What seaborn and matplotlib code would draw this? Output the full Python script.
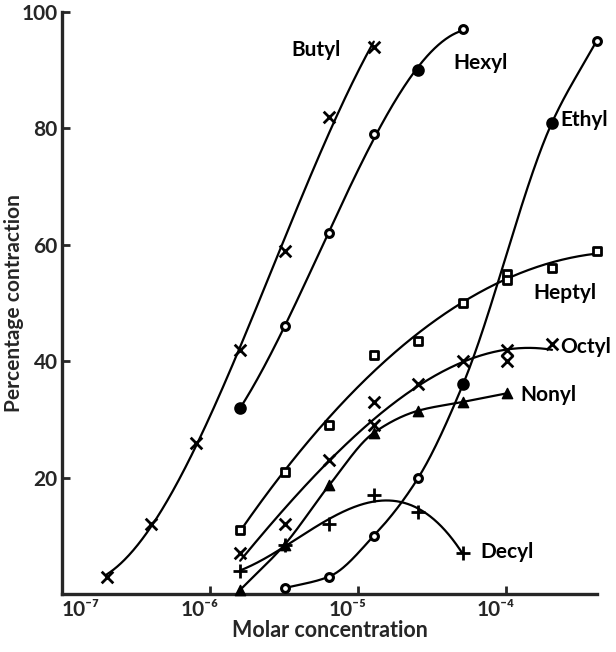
import numpy as np
import pandas as pd
import matplotlib
matplotlib.use("Agg")
import matplotlib.pyplot as plt
import matplotlib.transforms as mtransforms
import seaborn as sns

# ---- data ----
butyl_x = [2e-7, 4e-7, 8e-7, 1.6e-6, 3.2e-6, 6.4e-6, 1.28e-5]
butyl_y = [3, 12, 26, 42, 59, 82, 94]

hexyl_x = [1.6e-6, 3.2e-6, 6.4e-6, 1.28e-5, 2.56e-5, 5.12e-5]
hexyl_y = [32, 46, 62, 79, 90, 97]
hexyl_filled = [True, False, False, False, True, False]

ethyl_x = [3.2e-6, 6.4e-6, 1.28e-5, 2.56e-5, 5.12e-5, 2.048e-4, 4.096e-4]
ethyl_y = [1, 3, 10, 20, 36, 81, 95]
ethyl_filled = [False, False, False, False, True, True, False]

heptyl_x = [1.6e-6, 3.2e-6, 6.4e-6, 1.28e-5, 2.56e-5, 5.12e-5, 1.024e-4, 1.024e-4, 2.048e-4, 4.096e-4]
heptyl_y = [11, 21, 29, 41, 43.5, 50, 55, 54, 56, 59]

octyl_x = [1.6e-6, 3.2e-6, 6.4e-6, 1.28e-5, 1.28e-5, 2.56e-5, 5.12e-5, 1.024e-4, 1.024e-4, 2.048e-4]
octyl_y = [7, 12, 23, 33, 29, 36, 40, 42, 40, 43]

nonyl_x = [1.6e-6, 3.2e-6, 6.4e-6, 1.28e-5, 2.56e-5, 5.12e-5, 1.024e-4]
nonyl_y = [0.7, 8.5, 18.7, 27.7, 31.5, 33, 34.5]

decyl_x = [1.6e-6, 3.2e-6, 6.4e-6, 1.28e-5, 2.56e-5, 5.12e-5]
decyl_y = [4, 8.5, 12, 17, 14, 7]

x_ticks = [1e-7, 1e-6, 1e-5, 1e-4]
x_ticklabels = ["10⁻⁷", "10⁻⁶", "10⁻⁵", "10⁻⁴"]
y_ticks = [20, 40, 60, 80, 100]

# ---- styling ----
sns.set_style("ticks")
plt.rcParams["font.family"] = ["Lato", "DejaVu Sans"]
plt.rcParams["font.weight"] = "bold"

fig = plt.figure(figsize=(6.16, 6.52), dpi=100)
ax = fig.add_axes([0.1006, 0.089, 0.8685, 0.8926])
ax.set_xscale("log")


def pchip(xk, yk, xq):
    """Monotone cubic (Fritsch-Carlson) curve through the given points."""
    xk = np.asarray(xk, float); yk = np.asarray(yk, float)
    h = np.diff(xk); d = np.diff(yk) / h
    m = np.zeros_like(yk)
    for i in range(1, len(xk) - 1):
        if d[i - 1] * d[i] > 0:
            w1 = 2 * h[i] + h[i - 1]; w2 = h[i] + 2 * h[i - 1]
            m[i] = (w1 + w2) / (w1 / d[i - 1] + w2 / d[i])
    m[0] = d[0]; m[-1] = d[-1]
    idx = np.clip(np.searchsorted(xk, xq) - 1, 0, len(h) - 1)
    t = (xq - xk[idx]) / h[idx]
    h00 = 2 * t**3 - 3 * t**2 + 1; h10 = t**3 - 2 * t**2 + t
    h01 = -2 * t**3 + 3 * t**2; h11 = t**3 - t**2
    return (h00 * yk[idx] + h10 * h[idx] * m[idx]
            + h01 * yk[idx + 1] + h11 * h[idx] * m[idx + 1])


LW = 1.6
series = [
    ("Butyl", butyl_x, butyl_y, 3),
    ("Hexyl", hexyl_x, hexyl_y, 3),
    ("Ethyl", ethyl_x, ethyl_y, "spline"),
    ("Heptyl", heptyl_x, heptyl_y, 2),
    ("Octyl", octyl_x, octyl_y, 3),
    ("Nonyl", nonyl_x, nonyl_y, "spline"),
    ("Decyl", decyl_x, decyl_y, 3),
]

for name, xs, ys, kind in series:
    lx = np.log10(xs)
    grid = np.linspace(min(lx), max(lx), 300)
    if kind == "spline":
        yy = pchip(lx, ys, grid)
    else:
        yy = np.polyval(np.polyfit(lx, ys, kind), grid)
    curve = pd.DataFrame({"x": 10 ** grid, "y": yy})
    sns.lineplot(data=curve, x="x", y="y", ax=ax, color="black", lw=LW,
                 estimator=None, sort=False, clip_on=False)


def scatter(xs, ys, marker, size, filled=True, lw=2.0):
    df = pd.DataFrame({"x": xs, "y": ys})
    if marker in ("x", "+"):
        sns.scatterplot(data=df, x="x", y="y", ax=ax, marker=marker, s=size,
                        color="black", linewidth=lw, clip_on=False, zorder=5)
    else:
        sns.scatterplot(data=df, x="x", y="y", ax=ax, marker=marker, s=size,
                        facecolor="black" if filled else "white",
                        edgecolor="black", linewidth=lw, clip_on=False, zorder=5)


scatter(butyl_x, butyl_y, "x", 70)
hx = np.array(hexyl_x); hy = np.array(hexyl_y); hf = np.array(hexyl_filled)
scatter(hx[hf], hy[hf], "o", 50, True)
scatter(hx[~hf], hy[~hf], "o", 32, False, 2.2)
ex = np.array(ethyl_x); ey = np.array(ethyl_y); ef = np.array(ethyl_filled)
scatter(ex[ef], ey[ef], "o", 50, True)
scatter(ex[~ef], ey[~ef], "o", 32, False, 2.2)
scatter(heptyl_x, heptyl_y, "s", 32, False, 2.0)
scatter(octyl_x, octyl_y, "x", 70)
scatter(nonyl_x, nonyl_y, "^", 55, True, 1.0)
scatter(decyl_x, decyl_y, "+", 90)

# ---- labels for curves ----
lab_kw = dict(fontsize=15, fontweight="bold", va="center", color="black")
ax.text(10 ** -5.284, 93.5, "Butyl", ha="center", **lab_kw)
ax.text(10 ** -4.17, 91.2, "Hexyl", ha="center", **lab_kw)
ax.text(10 ** -3.635, 81.4, "Ethyl", ha="left", **lab_kw)
ax.text(10 ** -3.818, 51.7, "Heptyl", ha="left", **lab_kw)
ax.text(10 ** -3.635, 42.4, "Octyl", ha="left", **lab_kw)
ax.text(10 ** -3.905, 34.2, "Nonyl", ha="left", **lab_kw)
ax.text(10 ** -4.175, 7.2, "Decyl", ha="left", **lab_kw)

# ---- axes ----
ax.set_xlim(1e-7, 10 ** -3.385)
ax.set_ylim(0, 100)
ax.set_xticks(x_ticks)
ax.set_xticklabels(x_ticklabels)
ax.minorticks_off()
for lbl, ha in zip(ax.get_xticklabels(), ["left", "center", "center", "center"]):
    lbl.set_ha(ha)
ax.set_yticks(y_ticks)
ax.set_yticklabels([str(v) for v in y_ticks])
ax.tick_params(axis="both", direction="in", length=6, width=2, labelsize=15, pad=4)
ax.tick_params(axis="y", pad=3)
ax.set_xlabel("Molar concentration", fontsize=15.5, fontweight="bold", labelpad=0)
ax.set_ylabel("Percentage contraction", fontsize=15, fontweight="bold")
ax.yaxis.label.set_va("center")
ax.yaxis.set_label_coords(-0.09, 0.5)
sns.despine(ax=ax)
for sp in ("left", "bottom"):
    ax.spines[sp].set_linewidth(2.4)

fig.canvas.draw()
# nudge the decade labels left so the '10' sits under the tick, as in the original
off = mtransforms.ScaledTranslation(-10 / 100, 0, fig.dpi_scale_trans)
for lbl in ax.get_xticklabels()[1:]:
    lbl.set_transform(lbl.get_transform() + off)

fig.savefig("out.png", dpi=100)
